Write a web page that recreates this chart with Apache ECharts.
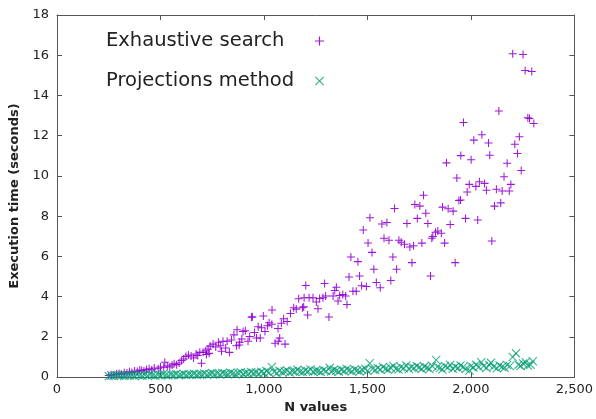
<!DOCTYPE html>
<html>
<head>
    <meta charset="utf-8"/>
    <title>Execution time</title>
    <script src="https://cdn.jsdelivr.net/npm/echarts@6/dist/echarts.min.js"></script>
    <style>
        html, body { margin: 0; padding: 0; background: #fff; }
        #main { width: 596px; height: 419px; }
    </style>
</head>
<body>
<div id="main"></div>
<script type="text/javascript">
    // data: [N, seconds]
    var exhaustive = [
        [250,0.08],[262,0.12],[275,0.1],[288,0.15],[300,0.18],[312,0.14],[325,0.22],[338,0.2],[350,0.26],[362,0.23],
        [375,0.3],[388,0.28],[400,0.35],[409,0.33],[420,0.3],[432,0.38],[445,0.42],[458,0.36],[470,0.45],[489,0.41],
        [500,0.5],[516,0.49],[521,0.74],[533,0.55],[545,0.5],[556,0.6],[566,0.66],[578,0.62],[590,0.7],[602,0.82],
        [612,0.9],[623,1.02],[635,1.1],[648,1.05],[660,0.95],[672,1.15],[680,1.07],[690,1.23],[698,0.69],[706,1.23],
        [719,1.31],[722,1.12],[730,1.4],[735,1.18],[740,1.54],[754,1.64],[767,1.5],[780,1.73],[789,1.56],[795,1.28],
        [802,1.78],[815,1.45],[822,1.78],[833,1.23],[843,1.84],[855,2.1],[867,1.56],[870,2.35],[880,1.6],[883,1.73],
        [893,1.89],[899,2.27],[910,2.3],[923,1.78],[931,2.02],[940,2.97],[944,3.0],[954,2.22],[964,1.94],[972,2.5],
        [982,1.94],[988,2.45],[997,3.04],[1005,2.27],[1017,2.55],[1025,2.7],[1038,2.63],[1039,3.34],[1054,1.68],[1068,2.42],
        [1069,1.78],[1076,1.94],[1084,2.68],[1095,2.9],[1102,1.64],[1112,2.76],[1128,3.16],[1144,3.45],[1156,3.38],[1168,3.9],
        [1186,3.45],[1192,3.49],[1194,3.94],[1202,4.55],[1211,3.09],[1218,3.94],[1237,3.94],[1253,3.73],[1261,3.4],[1269,3.91],
        [1285,3.94],[1293,4.65],[1298,4.03],[1314,2.99],[1334,4.03],[1342,4.3],[1350,4.47],[1358,3.78],[1366,4.06],[1381,4.1],
        [1395,4.03],[1401,3.61],[1411,4.98],[1420,5.97],[1430,4.27],[1446,4.27],[1454,5.74],[1462,5.03],[1472,4.54],[1480,7.31],
        [1495,4.5],[1503,6.67],[1512,7.92],[1522,6.2],[1531,5.36],[1543,4.7],[1562,4.44],[1570,7.61],[1580,6.9],[1594,7.69],
        [1604,6.8],[1613,4.8],[1623,5.97],[1631,8.38],[1641,5.36],[1652,6.8],[1663,6.7],[1679,6.6],[1691,7.64],[1705,6.47],
        [1715,5.69],[1723,6.53],[1729,8.58],[1741,7.89],[1753,8.5],[1763,6.66],[1771,9.04],[1782,8.15],[1792,7.64],[1805,5.03],
        [1811,6.9],[1816,6.99],[1829,7.2],[1840,7.26],[1857,7.15],[1863,8.45],[1873,6.66],[1882,10.65],[1890,8.37],[1900,7.59],
        [1914,8.25],[1924,5.69],[1932,9.9],[1942,8.78],[1950,8.8],[1951,11.01],[1964,12.66],[1974,7.89],[1982,9.2],[1992,9.58],
        [2001,10.8],[2014,11.78],[2024,9.48],[2033,7.81],[2041,9.71],[2053,12.05],[2066,9.63],[2075,9.29],[2085,11.64],[2091,11.03],
        [2101,6.77],[2114,8.5],[2123,9.34],[2135,13.23],[2144,8.66],[2151,9.25],[2160,9.96],[2175,10.63],[2185,9.25],[2193,9.58],
        [2202,16.07],[2212,11.57],[2225,11.11],[2234,11.95],[2243,10.27],[2252,16.04],[2262,15.24],[2275,12.89],[2283,12.86],[2294,15.19],
        [2304,12.61]
    ];
    var projections = [
        [250,0.05],[262,0.08],[275,0.06],[288,0.1],[300,0.07],[312,0.09],[325,0.05],[338,0.11],[350,0.08],[362,0.1],
        [375,0.06],[388,0.12],[400,0.09],[412,0.07],[425,0.11],[438,0.08],[450,0.13],[462,0.1],[475,0.07],[488,0.12],
        [500,0.09],[512,0.14],[525,0.1],[538,0.08],[550,0.13],[562,0.11],[575,0.15],[588,0.09],[600,0.12],[612,0.16],
        [625,0.1],[638,0.14],[650,0.12],[662,0.17],[675,0.11],[688,0.15],[700,0.13],[712,0.18],[725,0.12],[738,0.16],
        [750,0.2],[762,0.14],[775,0.18],[788,0.13],[800,0.21],[812,0.17],[825,0.15],[838,0.22],[850,0.18],[862,0.14],
        [875,0.2],[888,0.24],[900,0.16],[912,0.21],[925,0.18],[938,0.25],[950,0.19],[962,0.23],[975,0.17],[988,0.26],
        [1000,0.2],[1012,0.3],[1025,0.22],[1038,0.5],[1050,0.27],[1062,0.19],[1075,0.31],[1088,0.24],[1100,0.28],[1112,0.33],
        [1125,0.23],[1138,0.3],[1150,0.26],[1162,0.36],[1175,0.28],[1188,0.25],[1200,0.33],[1212,0.29],[1225,0.38],[1238,0.27],
        [1250,0.32],[1262,0.3],[1275,0.25],[1288,0.35],[1300,0.3],[1318,0.46],[1325,0.28],[1338,0.37],[1350,0.32],[1362,0.27],
        [1375,0.36],[1388,0.3],[1400,0.4],[1412,0.34],[1425,0.29],[1438,0.38],[1450,0.33],[1462,0.28],[1475,0.36],[1490,0.42],
        [1500,0.31],[1511,0.69],[1525,0.4],[1538,0.35],[1550,0.45],[1562,0.38],[1575,0.5],[1588,0.41],[1600,0.36],[1612,0.47],
        [1625,0.55],[1638,0.42],[1650,0.38],[1662,0.5],[1675,0.44],[1688,0.58],[1700,0.4],[1712,0.5],[1725,0.45],[1738,0.55],
        [1750,0.48],[1762,0.4],[1775,0.52],[1788,0.46],[1800,0.4],[1812,0.56],[1832,0.85],[1838,0.5],[1850,0.45],[1862,0.38],
        [1875,0.55],[1888,0.48],[1900,0.6],[1912,0.42],[1925,0.52],[1938,0.45],[1950,0.58],[1962,0.5],[1975,0.4],[1993,0.33],
        [2000,0.55],[2012,0.48],[2025,0.62],[2038,0.5],[2050,0.74],[2062,0.55],[2075,0.45],[2088,0.6],[2097,0.71],[2110,0.52],
        [2125,0.44],[2138,0.58],[2150,0.5],[2162,0.47],[2175,0.6],[2188,0.55],[2202,1.0],[2218,1.18],[2230,0.62],[2240,0.55],
        [2252,0.68],[2265,0.74],[2275,0.58],[2288,0.62],[2299,0.79]
    ];
    var seriesNames = ['Exhaustive search', 'Projections method'];
    var seriesColors = ['#9400d3', '#009e73'];

    // gnuplot style point shapes
    var PLUS = 'path://M4.35,0H5.65V4.35H10V5.65H5.65V10H4.35V5.65H0V4.35H4.35Z';
    var CROSS = 'path://M0,0.9L0.9,0L5,4.1L9.1,0L10,0.9L5.9,5L10,9.1L9.1,10L5,5.9L0.9,10L0,9.1L4.1,5Z';
    var font = 'DejaVu Sans';
    var frameColor = '#555';

    function frameAxis(extra) {
        var a = {
            axisLine: { show: true, onZero: false, lineStyle: { color: frameColor, width: 1 } },
            axisTick: { show: true, inside: true, length: 5, lineStyle: { color: frameColor } },
            axisLabel: { show: false },
            splitLine: { show: false }
        };
        for (var k in extra) a[k] = extra[k];
        return a;
    }

    var myChart = echarts.init(document.getElementById('main'));
    var option = {
        animation: false,
        textStyle: { fontFamily: font },
        grid: { left: 57, right: 21, top: 15, bottom: 39 },
        legend: {
            orient: 'vertical',
            left: 101,
            top: 26,
            align: 'right',
            itemGap: 20,
            itemWidth: 9,
            itemHeight: 9,
            formatter: function (name) { return '{t|' + name + '}'; },
            textStyle: {
                fontFamily: font, fontSize: 19.5, color: '#222',
                rich: { t: { width: 204, align: 'left', fontSize: 19.5, fontFamily: font, color: '#222', lineHeight: 22 } }
            },
            data: [
                { name: seriesNames[0], icon: PLUS, itemStyle: { color: seriesColors[0] } },
                { name: seriesNames[1], icon: CROSS, itemStyle: { color: seriesColors[1], opacity: 0.8 } }
            ]
        },
        xAxis: [
            frameAxis({
                type: 'value', position: 'bottom', min: 0, max: 2500, interval: 500,
                name: 'N values', nameLocation: 'middle', nameGap: 23,
                nameTextStyle: { fontFamily: font, fontSize: 13, fontWeight: 'bold', color: '#222' },
                axisLabel: { show: true, fontFamily: font, fontSize: 13, color: '#222', margin: 6 }
            }),
            frameAxis({ type: 'value', position: 'top', min: 0, max: 2500, interval: 500 })
        ],
        yAxis: [
            frameAxis({
                type: 'value', position: 'left', min: 0, max: 18, interval: 2,
                name: 'Execution time (seconds)', nameLocation: 'middle', nameGap: 34,
                nameTextStyle: { fontFamily: font, fontSize: 13, fontWeight: 'bold', color: '#222' },
                axisLabel: { show: true, fontFamily: font, fontSize: 13, color: '#222', margin: 8 }
            }),
            frameAxis({ type: 'value', position: 'right', min: 0, max: 18, interval: 2 })
        ],
        series: [
            {
                name: seriesNames[0],
                type: 'scatter',
                data: exhaustive,
                symbol: PLUS,
                symbolSize: 8,
                itemStyle: { color: seriesColors[0], opacity: 0.9 }
            },
            {
                name: seriesNames[1],
                type: 'scatter',
                data: projections,
                symbol: CROSS,
                symbolSize: 9,
                itemStyle: { color: seriesColors[1], opacity: 0.75 }
            }
        ]
    };
    myChart.setOption(option);
</script>
</body>
</html>
